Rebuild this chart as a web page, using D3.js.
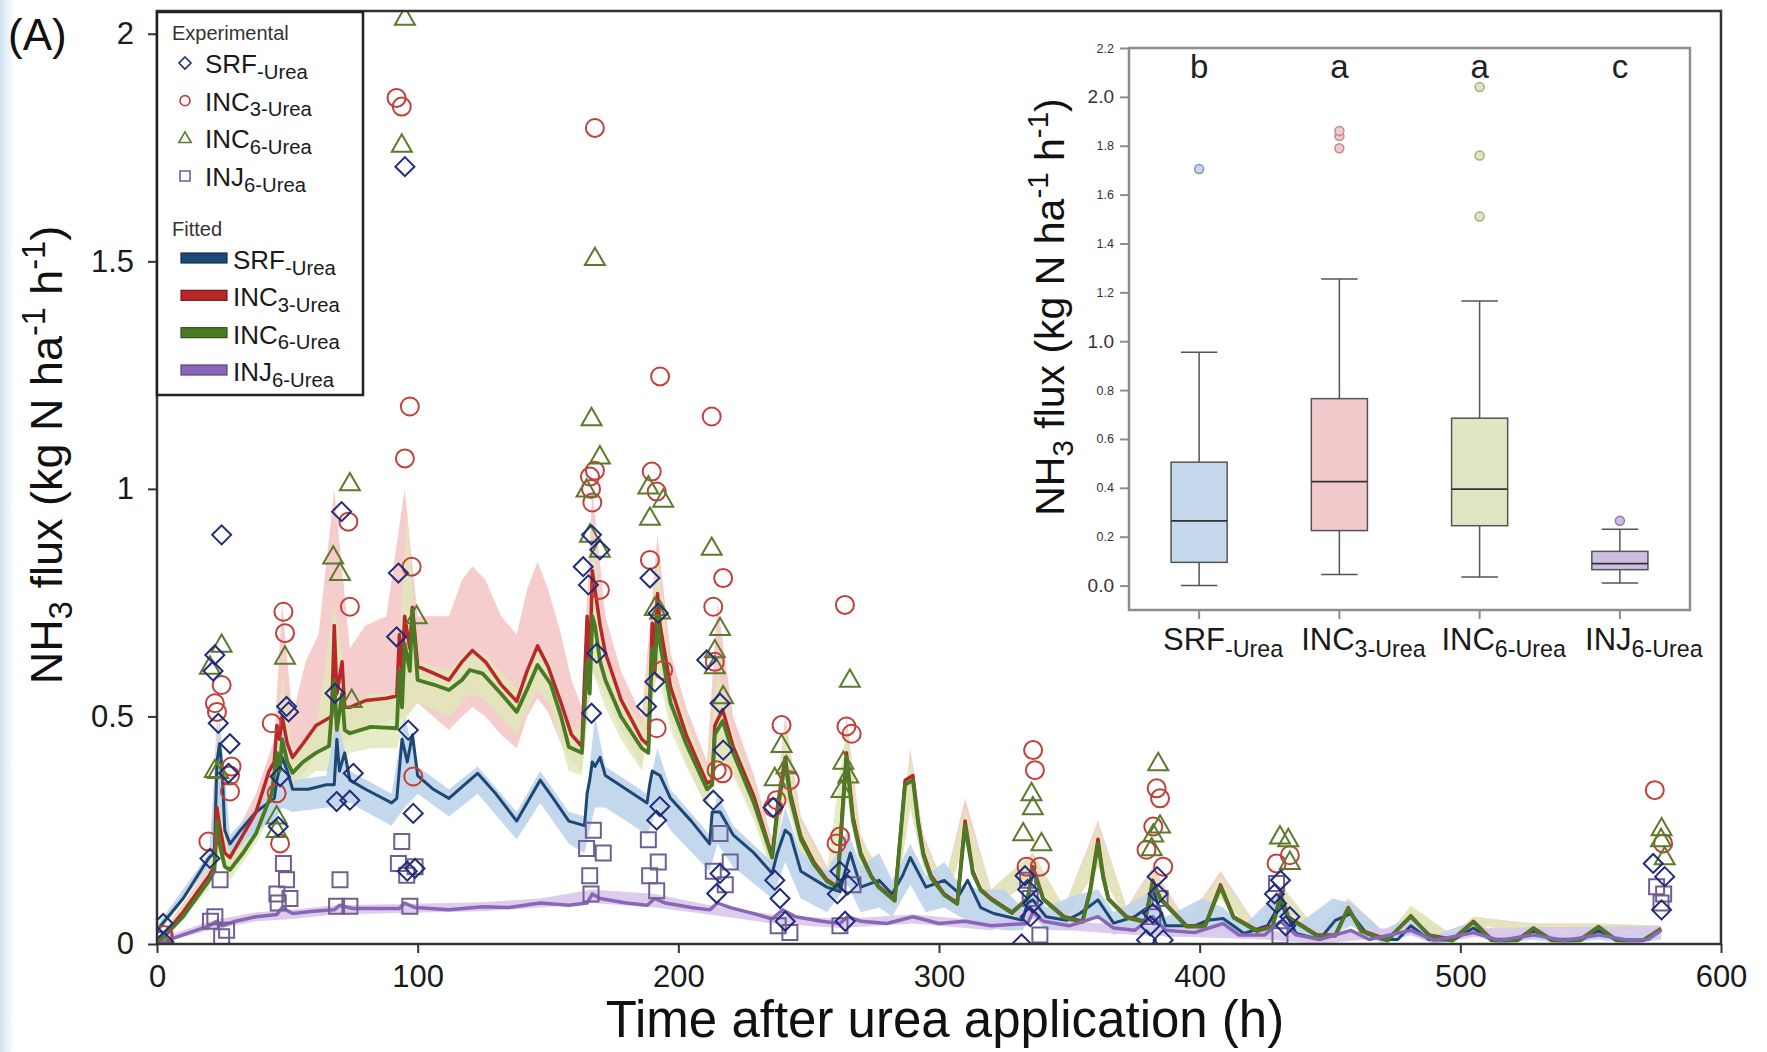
<!DOCTYPE html>
<html>
<head>
<meta charset="utf-8">
<script src="https://cdn.jsdelivr.net/npm/d3@7"></script>
<style>
  body { margin: 0; background: #fff; }
  svg { display: block; font-family: "Liberation Sans", Arial, sans-serif; }
</style>
</head>
<body>
<div id="chart"></div>
<script>
// ---------- data ----------
const xTicks = [0, 100, 200, 300, 400, 500, 600];
const yTicks = [0, 0.5, 1, 1.5, 2];
const insetTicks = [0, 0.2, 0.4, 0.6, 0.8, 1.0, 1.2, 1.4, 1.6, 1.8, 2.0, 2.2];

// experimental points [hour, flux]
const obsSRF = [[2.4,0.045],[2.6,0.005],[20.3,0.188],[22.2,0.635],[24.8,0.899],[23.5,0.485],[21.5,0.6],[28,0.44],[27.4,0.375],
  [46.5,0.258],[47.2,0.368],[49.7,0.522],[50.5,0.51],[68.3,0.551],[70.8,0.95],[68.9,0.313],[74,0.316],[75.3,0.375],
  [92.6,0.815],[91.9,0.675],[95.1,1.708],[96.4,0.47],[98.3,0.287],[99,0.166],[96,0.16],
  [163.5,0.829],[165.5,0.789],[166.7,0.899],[169.9,0.866],[168.7,0.639],[166.7,0.507],
  [189.1,0.804],[192.3,0.727],[191,0.576],[187.8,0.522],[192.9,0.302],[191.7,0.272],
  [210.9,0.624],[216,0.529],[217.2,0.426],[213.4,0.316],[216,0.155],[214.7,0.111],
  [236.4,0.3],[237,0.14],[239,0.1],[241,0.05],[262,0.16],[261,0.11],[264,0.05],[265,0.13],
  [331.7,0.0],[333,0.15],[334,0.12],[336,0.09],[335,0.06],[379.6,0.009],[386,0.009],[382,0.067],[383.7,0.148],[381,0.04],[384,0.11],
  [429.5,0.089],[434.6,0.06],[428.7,0.11],[431,0.14],[433,0.04],[574,0.177],[578.4,0.148],[577.2,0.075]];
const obsINC3 = [[2.6,0.02],[19.7,0.225],[24.8,0.569],[22.2,0.529],[23,0.51],[28.6,0.39],[28,0.37],[28,0.335],
  [48.5,0.73],[49.1,0.683],[44,0.485],[45.9,0.331],[47.2,0.221],[73.4,0.928],[74,0.741],
  [91.9,1.859],[93.9,1.84],[97,1.181],[95.1,1.067],[97.7,0.829],[98.3,0.368],
  [168,1.793],[166.1,1.027],[166.5,1.0],[168,1.04],[167,0.97],[169.9,0.778],
  [193,1.247],[189.8,1.038],[191.7,0.994],[189.1,0.844],[194.2,0.602],[191.7,0.474],
  [212.8,1.159],[217.2,0.804],[213.4,0.741],[214,0.62],[214.7,0.382],[217,0.375],
  [239.6,0.481],[242.8,0.36],[237.7,0.316],[236.4,0.3],[263.9,0.745],[264.5,0.478],[266.5,0.462],[260.7,0.221],[262,0.236],
  [336.1,0.426],[336.8,0.382],[333.6,0.17],[338.7,0.17],[383.5,0.342],[384.8,0.32],[382.2,0.258],[379.6,0.207],[386,0.17],
  [429.5,0.177],[434.6,0.195],[574.6,0.338],[577.8,0.221]];
const obsINC6 = [[2.6,0.0],[20.3,0.609],[24.8,0.657],[22.2,0.382],[23.5,0.38],[45.9,0.28],[45.9,0.25],[49.1,0.631],
  [67.6,0.851],[70.2,0.815],[74,1.012],[74.7,0.536],[99.6,0.72],[95.1,2.035],[93.9,1.756],
  [168,1.507],[166.7,1.155],[169.9,1.071],[164.8,0.998],[166.1,0.899],[169.9,0.866],
  [188.5,1.005],[194.2,0.976],[189.1,0.936],[191,0.738],[193,0.73],
  [212.8,0.87],[216,0.694],[214,0.645],[214,0.61],[217.2,0.544],[239.6,0.437],[237,0.364],[241.5,0.39],
  [265.8,0.58],[263.3,0.4],[262.6,0.338],[265.2,0.37],[335.5,0.331],[336,0.3],[332.3,0.243],[339.3,0.221],
  [384.1,0.397],[384.8,0.26],[382.2,0.24],[381.6,0.21],[430.8,0.236],[434,0.23],[434.6,0.18],
  [577.2,0.254],[577,0.23],[578.4,0.19]];
const obsINJ6 = [[2.6,0.01],[22.2,0.06],[24.2,0.141],[24.8,0.016],[26.7,0.03],[20.5,0.05],
  [48.5,0.177],[49.7,0.141],[46,0.11],[46.5,0.09],[51,0.1],[70.2,0.141],[68.9,0.083],[74,0.083],
  [93.9,0.225],[92.6,0.177],[95.8,0.151],[97,0.083],[99,0.17],
  [167.4,0.25],[164.8,0.21],[171.2,0.2],[166,0.15],[166.5,0.11],[188.5,0.229],[192.3,0.18],[189,0.15],[191.7,0.117],
  [216,0.243],[219.9,0.18],[213.4,0.16],[218,0.13],[238.3,0.04],[242.8,0.025],[262,0.04],[267,0.13],
  [338.7,0.02],[335,0.1],[334,0.14],[384.8,0.1],[382,0.06],[429.5,0.133],[430.8,0.018],
  [575.3,0.126],[578,0.11],[577,0.09]];

// fitted model lines [hour, flux]
const fitSRF = [[0,0.03],[10,0.1],[20,0.19],[22,0.2],[23,0.4],[24,0.44],[25,0.38],[26,0.25],[28,0.22],[32,0.25],[38,0.29],
  [45,0.32],[46,0.36],[48,0.41],[50,0.38],[52,0.34],[58,0.34],[65,0.35],[68,0.35],[69,0.45],[70,0.38],[72,0.42],[74,0.36],
  [80,0.34],[90,0.31],[92,0.32],[94,0.45],[96,0.4],[98,0.46],[100,0.37],[106,0.34],[112,0.32],[118,0.35],[123,0.375],
  [130,0.33],[138,0.27],[143,0.32],[147,0.36],[152,0.32],[158,0.27],[164,0.26],[165,0.33],[166,0.36],[167,0.4],[168,0.39],
  [170,0.41],[172,0.37],[180,0.34],[188,0.31],[189,0.35],[190,0.38],[193,0.37],[197,0.32],[205,0.27],[212,0.22],[213,0.29],
  [216,0.29],[221,0.24],[229,0.2],[236,0.155],[238,0.2],[241,0.25],[243,0.24],[247,0.16],[257,0.125],[262,0.115],[264,0.16],
  [266,0.2],[270,0.125],[277,0.14],[282,0.11],[286,0.15],[289,0.19],[295,0.125],[302,0.14],[308,0.11],[311,0.14],[316,0.08],
  [321,0.067],[332,0.052],[334,0.09],[336,0.097],[341,0.06],[349,0.052],[354,0.067],[361,0.097],[367,0.046],[375,0.06],
  [380,0.08],[382,0.12],[387,0.04],[398,0.04],[403,0.052],[409,0.056],[417,0.023],[426,0.04],[431,0.09],[437,0.023],
  [446,0.01],[452,0.052],[458,0.067],[464,0.023],[470,0.01],[476,0.01],[481,0.04],[488,0.01],[497,0.008],[505,0.035],
  [512,0.008],[522,0.01],[528,0.03],[535,0.01],[546,0.008],[553,0.03],[560,0.008],[570,0.008],[577,0.03]];
const fitINC3 = [[0,0],[10,0.07],[20,0.15],[22,0.17],[23,0.3],[24,0.26],[26,0.2],[28,0.19],[33,0.24],[38,0.29],[43,0.38],
  [45,0.4],[46,0.48],[47,0.45],[48,0.5],[50,0.44],[52,0.41],[56,0.44],[61,0.48],[67,0.5],[68,0.7],[69,0.55],[71,0.62],
  [72,0.52],[74,0.52],[80,0.535],[88,0.54],[92,0.545],[93,0.68],[94,0.6],[95,0.72],[97,0.65],[98,0.74],[100,0.61],
  [106,0.595],[112,0.58],[117,0.62],[121,0.645],[126,0.62],[132,0.57],[138,0.533],[142,0.6],[146,0.655],[150,0.61],
  [155,0.53],[159,0.46],[163,0.434],[165,0.72],[166,0.6],[167,0.82],[168,0.78],[170,0.7],[172,0.64],[178,0.537],[186,0.45],
  [188.5,0.437],[190,0.705],[191,0.65],[192,0.77],[193,0.7],[197,0.565],[203,0.46],[211,0.353],[213,0.36],[214,0.48],
  [217,0.515],[221,0.434],[229,0.324],[236,0.192],[238,0.3],[241,0.41],[243,0.33],[247,0.236],[252,0.18],[257,0.141],[261,0.126],
  [263,0.3],[264.5,0.42],[267,0.28],[270,0.2],[274,0.15],[277,0.126],[283,0.097],[287,0.36],[290,0.37],[292,0.27],[294,0.2],
  [297,0.15],[302,0.11],[307,0.09],[310,0.27],[313,0.16],[316,0.12],[320,0.1],[328,0.07],[334,0.1],[336,0.17],[340,0.1],
  [348,0.06],[355,0.05],[358,0.12],[361,0.23],[363,0.15],[365,0.1],[372,0.06],[379,0.05],[382,0.14],[385,0.1],[395,0.04],
  [402,0.04],[408,0.13],[413,0.06],[422,0.03],[428,0.04],[431,0.11],[434,0.06],[445,0.02],[452,0.02],[457,0.08],[462,0.03],
  [472,0.01],[481,0.06],[488,0.02],[497,0.01],[505,0.05],[512,0.01],[522,0.01],[528,0.035],[535,0.01],[546,0.01],[553,0.038],
  [560,0.008],[570,0.008],[577,0.034]];
const fitINC6 = [[0,0],[10,0.06],[20,0.14],[22,0.16],[23,0.27],[24,0.22],[26,0.17],[28,0.163],[33,0.2],[38,0.243],[44,0.33],
  [46,0.42],[47,0.38],[48,0.45],[50,0.4],[52,0.376],[56,0.4],[61,0.42],[66,0.435],[68,0.58],[69,0.47],[71,0.55],[72,0.47],
  [74,0.463],[82,0.477],[92,0.474],[93,0.6],[94,0.52],[95,0.66],[97,0.6],[98,0.734],[100,0.58],[106,0.57],[112,0.558],
  [117,0.58],[120,0.602],[125,0.594],[132,0.55],[138,0.51],[142,0.56],[146,0.613],[151,0.572],[155,0.5],[158,0.433],
  [163,0.42],[165,0.62],[166,0.55],[167,0.72],[168,0.7],[170,0.62],[172,0.58],[178,0.5],[186,0.43],[188.5,0.42],[190,0.65],
  [191,0.6],[192,0.72],[193,0.66],[197,0.53],[203,0.44],[211,0.34],[213,0.35],[214,0.46],[217,0.49],[221,0.42],[229,0.31],
  [236,0.19],[238,0.29],[241,0.4],[243,0.32],[247,0.23],[252,0.175],[257,0.138],[261,0.124],[263,0.29],[264.5,0.41],[267,0.27],
  [270,0.195],[274,0.148],[277,0.124],[283,0.095],[287,0.35],[290,0.36],[292,0.265],[294,0.195],[297,0.145],[302,0.108],
  [307,0.088],[310,0.26],[313,0.155],[316,0.118],[320,0.098],[328,0.068],[334,0.1],[336,0.165],[340,0.098],[348,0.058],
  [355,0.048],[358,0.115],[361,0.22],[363,0.145],[365,0.098],[372,0.058],[379,0.048],[382,0.135],[385,0.098],[395,0.038],
  [402,0.038],[408,0.125],[413,0.058],[422,0.028],[428,0.038],[431,0.105],[434,0.058],[445,0.018],[452,0.018],[457,0.078],
  [462,0.028],[472,0.008],[481,0.062],[488,0.018],[497,0.008],[505,0.048],[512,0.008],[522,0.008],[528,0.034],[535,0.008],
  [546,0.008],[553,0.038],[560,0.008],[570,0.008],[577,0.032]];
const fitINJ6 = [[0,0],[10,0.02],[20,0.04],[23,0.05],[25,0.04],[30,0.05],[38,0.06],[46,0.065],[48,0.08],[52,0.067],[60,0.072],
  [68,0.075],[70,0.085],[75,0.078],[85,0.078],[93,0.078],[95,0.09],[99,0.08],[112,0.075],[125,0.082],[135,0.08],[147,0.09],
  [158,0.085],[165,0.09],[167,0.11],[170,0.1],[180,0.09],[188,0.085],[191,0.1],[195,0.09],[205,0.08],[212,0.075],[215,0.09],
  [220,0.08],[230,0.065],[236,0.055],[240,0.075],[245,0.06],[255,0.05],[262,0.045],[265,0.06],[270,0.05],[280,0.045],
  [290,0.06],[300,0.045],[310,0.05],[320,0.04],[334,0.045],[336,0.07],[340,0.05],[350,0.04],[361,0.06],[367,0.035],
  [375,0.03],[382,0.06],[387,0.03],[398,0.025],[409,0.045],[415,0.02],[425,0.02],[431,0.05],[437,0.02],[446,0.01],
  [458,0.03],[465,0.01],[481,0.03],[490,0.008],[505,0.025],[515,0.008],[528,0.02],[540,0.008],[553,0.02],[565,0.008],
  [572,0.01],[577,0.03]];

// uncertainty bands [hour, low, high]
const bandSRF = [[0,0.02,0.04],[20,0.17,0.2],[24,0.3,0.5],[28,0.19,0.24],[38,0.25,0.3],[45,0.27,0.34],[48,0.3,0.48],
  [52,0.29,0.36],[65,0.3,0.37],[69,0.3,0.5],[74,0.31,0.38],[90,0.26,0.33],[95,0.3,0.5],[100,0.33,0.39],[112,0.28,0.34],
  [123,0.33,0.39],[138,0.23,0.29],[147,0.31,0.38],[158,0.22,0.29],[164,0.2,0.28],[168,0.3,0.5],[172,0.3,0.39],[188,0.24,0.33],
  [192,0.3,0.43],[197,0.25,0.34],[212,0.16,0.24],[215,0.22,0.33],[221,0.17,0.26],[236,0.1,0.18],[241,0.18,0.3],[247,0.1,0.2],
  [257,0.07,0.16],[265,0.13,0.25],[270,0.07,0.17],[277,0.08,0.2],[282,0.06,0.14],[289,0.13,0.22],[295,0.07,0.15],
  [302,0.08,0.18],[308,0.06,0.13],[316,0.04,0.12],[325,0.03,0.12],[332,0.03,0.08],[336,0.06,0.13],[341,0.03,0.08],
  [351,0.03,0.105],[361,0.06,0.12],[367,0.02,0.07],[380,0.05,0.11],[387,0.015,0.06],[401,0.02,0.1],[409,0.03,0.08],
  [417,0.01,0.04],[431,0.06,0.12],[437,0.01,0.04],[451,0.02,0.1],[458,0.04,0.09],[470,0.0,0.03],[481,0.02,0.06],
  [490,0.0,0.02],[505,0.02,0.05],[515,0.0,0.02],[528,0.01,0.04],[540,0.0,0.02],[553,0.01,0.04],[565,0.0,0.02],[577,0.01,0.04]];
const bandINC3 = [[0,0,0.01],[20,0.13,0.17],[23,0.2,0.5],[28,0.16,0.22],[38,0.25,0.33],[45,0.33,0.45],[48,0.4,0.75],
  [52,0.35,0.5],[57,0.38,0.62],[62,0.42,0.68],[68,0.44,1.0],[74,0.45,0.65],[80,0.48,0.7],[88,0.49,0.72],[95,0.5,1.0],
  [100,0.53,0.72],[106,0.5,0.72],[112,0.47,0.72],[117,0.5,0.8],[121,0.52,0.83],[126,0.5,0.8],[132,0.46,0.72],[138,0.43,0.68],
  [142,0.5,0.78],[146,0.54,0.84],[150,0.51,0.78],[155,0.44,0.68],[159,0.4,0.58],[163,0.38,0.52],[167,0.6,1.0],[172,0.55,0.72],
  [178,0.47,0.6],[186,0.39,0.5],[192,0.62,0.9],[197,0.5,0.64],[203,0.4,0.52],[211,0.3,0.4],[215,0.42,0.75],[221,0.38,0.5],
  [229,0.28,0.37],[236,0.16,0.23],[241,0.33,0.5],[247,0.2,0.28],[257,0.11,0.17],[261,0.1,0.15],[264.5,0.33,0.5],
  [270,0.16,0.24],[277,0.1,0.15],[283,0.08,0.12],[289,0.3,0.43],[294,0.17,0.24],[302,0.09,0.13],[310,0.22,0.32],
  [320,0.08,0.12],[336,0.14,0.2],[348,0.05,0.08],[361,0.17,0.27],[372,0.05,0.08],[382,0.11,0.17],[395,0.03,0.05],
  [408,0.1,0.16],[422,0.02,0.04],[431,0.09,0.13],[445,0.01,0.03],[457,0.06,0.1],[472,0.0,0.02],[481,0.05,0.08],
  [497,0.0,0.02],[505,0.04,0.06],[528,0.03,0.045],[553,0.03,0.045],[577,0.025,0.04]];
const bandINC6 = [[0,0,0.01],[20,0.12,0.16],[23,0.2,0.4],[28,0.14,0.19],[38,0.22,0.27],[45,0.3,0.37],[48,0.35,0.6],
  [52,0.34,0.42],[61,0.38,0.47],[68,0.38,0.75],[74,0.42,0.52],[82,0.43,0.55],[92,0.43,0.55],[96,0.5,0.95],[100,0.53,0.62],
  [112,0.5,0.6],[120,0.55,0.65],[125,0.54,0.64],[138,0.46,0.56],[146,0.56,0.66],[151,0.52,0.62],[158,0.38,0.48],
  [163,0.37,0.47],[167,0.6,0.9],[172,0.52,0.63],[178,0.45,0.55],[186,0.38,0.48],[192,0.6,0.85],[197,0.47,0.6],
  [203,0.39,0.49],[211,0.3,0.38],[215,0.4,0.6],[221,0.37,0.46],[229,0.27,0.35],[236,0.16,0.22],[241,0.33,0.48],
  [247,0.2,0.27],[257,0.11,0.16],[264.5,0.33,0.48],[270,0.16,0.23],[283,0.08,0.12],[289,0.3,0.42],[294,0.17,0.23],
  [302,0.09,0.13],[310,0.22,0.3],[320,0.08,0.12],[336,0.14,0.2],[348,0.05,0.08],[361,0.17,0.26],[372,0.05,0.08],
  [382,0.11,0.16],[395,0.03,0.05],[408,0.1,0.15],[422,0.02,0.04],[431,0.09,0.13],[445,0.01,0.03],[457,0.06,0.09],
  [472,0.0,0.02],[481,0.055,0.085],[497,0.0,0.02],[505,0.04,0.06],[528,0.03,0.045],[553,0.03,0.045],[577,0.025,0.04]];
const bandINJ6 = [[0,0,0.01],[20,0.03,0.05],[38,0.05,0.07],[52,0.055,0.075],[68,0.065,0.085],[93,0.068,0.088],
  [125,0.072,0.092],[147,0.08,0.1],[167,0.09,0.12],[191,0.08,0.11],[212,0.065,0.085],[236,0.045,0.065],[262,0.035,0.055],
  [290,0.045,0.065],[320,0.03,0.05],[336,0.055,0.08],[350,0.03,0.05],[375,0.02,0.04],[398,0.015,0.035],[425,0.01,0.03],
  [446,0.0,0.02],[481,0.02,0.04],[490,0.0,0.015],[505,0.015,0.035],[577,0.02,0.04]];

// inset box plot
const boxNames = ["SRF", "INC3", "INC6", "INJ6"];
const boxSub = ["-Urea", "3-Urea", "6-Urea", "6-Urea"];
const boxMain = ["SRF", "INC", "INC", "INJ"];
const boxLow = [0.0, 0.045, 0.035, 0.01];
const boxQ1 = [0.095, 0.225, 0.245, 0.065];
const boxMedian = [0.265, 0.425, 0.395, 0.09];
const boxQ3 = [0.505, 0.765, 0.685, 0.14];
const boxHigh = [0.955, 1.255, 1.165, 0.23];
const boxOutliers = [[1.705], [1.79, 1.84, 1.86], [1.51, 1.76, 2.04], [0.265]];
const boxLetters = ["b", "a", "a", "c"];

// ---------- drawing ----------
const W = 1767, H = 1052;
const svg = d3.select("#chart").append("svg").attr("width", W).attr("height", H);
const defs = svg.append("defs");

const edge = defs.append("linearGradient").attr("id", "edge");
edge.append("stop").attr("offset", "0%").attr("stop-color", "#cfe2f5");
edge.append("stop").attr("offset", "100%").attr("stop-color", "#ffffff");
svg.append("rect").attr("width", W).attr("height", H).attr("fill", "#fff");
svg.append("rect").attr("width", 14).attr("height", H).attr("fill", "url(#edge)");

const x = d3.scaleLinear().domain([0, 600]).range([157, 1721]);
const y = d3.scaleLinear().domain([0, 2.05]).range([944, 11]);

defs.append("clipPath").attr("id", "plotclip").append("rect")
  .attr("x", x(0)).attr("y", y(2.05)).attr("width", x(600) - x(0)).attr("height", y(0) - y(2.05));

const col = {
  SRF:  { line: "#1d4874", band: "#bcd3eb", mark: "#202c7c", w: 3 },
  INC3: { line: "#b8282b", band: "#f4c4c4", mark: "#c0403c", w: 3.5 },
  INC6: { line: "#4b7a25", band: "#dfe8b8", mark: "#5d7a2c", w: 3.8 },
  INJ6: { line: "#8a66b8", band: "#d8c8ea", mark: "#6f5f92", w: 3.5 }
};

// rich text helper: parts = [text, mode] with mode "sub" / "sup" / undefined
function rich(sel, parts, size, subScale) {
  let shift = 0;
  parts.forEach(([t, m]) => {
    const target = m === "sub" ? size * 0.22 : m === "sup" ? -size * 0.38 : 0;
    sel.append("tspan").attr("dy", target - shift)
      .attr("font-size", m ? size * (subScale || 0.72) : size).text(t);
    shift = target;
  });
}

function shapePath(kind, r) {
  if (kind === "diamond") return `M0,${-r}L${r},0L0,${r}L${-r},0Z`;
  if (kind === "triangle") return `M0,${-r}L${r * 0.95},${r * 0.65}L${-r * 0.95},${r * 0.65}Z`;
  if (kind === "square") return `M${-r},${-r}H${r}V${r}H${-r}Z`;
  return d3.symbol(d3.symbolCircle, Math.PI * r * r)();
}

const plot = svg.append("g").attr("clip-path", "url(#plotclip)");

const area = d3.area().x(d => x(d[0])).y0(d => y(d[1])).y1(d => y(d[2]));
const line = d3.line().x(d => x(d[0])).y(d => y(d[1]));

[[bandINC3, "INC3", 0.85], [bandINC6, "INC6", 0.8], [bandSRF, "SRF", 0.9], [bandINJ6, "INJ6", 0.9]].forEach(([b, k, o]) => {
  plot.append("path").datum(b).attr("d", area).attr("fill", col[k].band).attr("fill-opacity", o);
});

[[fitSRF, "SRF"], [fitINC3, "INC3"], [fitINC6, "INC6"], [fitINJ6, "INJ6"]].forEach(([f, k]) => {
  plot.append("path").datum(f).attr("d", line).attr("fill", "none")
    .attr("stroke", col[k].line).attr("stroke-width", col[k].w).attr("stroke-linejoin", "round");
});

[[obsINJ6, "INJ6", "square", 7.5], [obsINC3, "INC3", "circle", 9], [obsINC6, "INC6", "triangle", 10.5], [obsSRF, "SRF", "diamond", 9.5]]
  .forEach(([pts, k, kind, r]) => {
    plot.selectAll(null).data(pts).enter().append("path")
      .attr("transform", d => `translate(${x(d[0])},${y(d[1])})`)
      .attr("d", shapePath(kind, r))
      .attr("fill", "none").attr("stroke", col[k].mark).attr("stroke-width", 2);
  });

// axes
const axFont = 31;
const gx = svg.append("g").attr("transform", `translate(0,${y(0)})`)
  .call(d3.axisBottom(x).tickValues(xTicks).tickSize(9).tickPadding(12).tickFormat(d3.format("d")));
const gy = svg.append("g").attr("transform", `translate(${x(0)},0)`)
  .call(d3.axisLeft(y).tickValues(yTicks).tickSize(9).tickPadding(14).tickFormat(d => String(d)));
[gx, gy].forEach(g => {
  g.select(".domain").remove();
  g.selectAll("line").attr("stroke", "#333").attr("stroke-width", 2);
  g.selectAll("text").attr("font-size", axFont).attr("fill", "#1a1a1a").attr("font-family", "Liberation Sans, Arial, sans-serif");
});

svg.append("rect").attr("x", x(0)).attr("y", y(2.05)).attr("width", x(600) - x(0)).attr("height", y(0) - y(2.05))
  .attr("fill", "none").attr("stroke", "#333").attr("stroke-width", 2.5);

// titles
rich(svg.append("text").attr("x", 945).attr("y", 1037).attr("text-anchor", "middle").attr("fill", "#111"),
  [["Time after urea application (h)"]], 51);
rich(svg.append("text").attr("transform", "translate(62,455) rotate(-90)").attr("text-anchor", "middle").attr("fill", "#111"),
  [["NH"], ["3", "sub"], [" flux (kg N ha"], ["-1", "sup"], [" h"], ["-1", "sup"], [")"]], 45);
svg.append("text").attr("x", 8).attr("y", 50).attr("font-size", 44).attr("fill", "#111").text("(A)");

// legend
const lg = svg.append("g");
lg.append("rect").attr("x", 157).attr("y", 12).attr("width", 206).attr("height", 383)
  .attr("fill", "#fff").attr("stroke", "#222").attr("stroke-width", 2.5);
lg.append("text").attr("x", 172).attr("y", 40).attr("font-size", 20).attr("fill", "#333").text("Experimental");
const legKeys = ["SRF", "INC3", "INC6", "INJ6"];
const legShapes = ["diamond", "circle", "triangle", "square"];
const legShapeR = [6, 5, 6.5, 5];
const legRowY = d3.scaleLinear().domain([0, 3]).range([63, 176]);
legKeys.forEach((k, i) => {
  lg.append("path").attr("transform", `translate(185,${legRowY(i)})`).attr("d", shapePath(legShapes[i], legShapeR[i]))
    .attr("fill", "none").attr("stroke", col[k].mark).attr("stroke-width", 1.6);
  rich(lg.append("text").attr("x", 205).attr("y", legRowY(i) + 10).attr("fill", "#1a1a1a"),
    [[boxMain[i]], [boxSub[i], "sub"]], 26, 0.78);
});
lg.append("text").attr("x", 172).attr("y", 236).attr("font-size", 20).attr("fill", "#333").text("Fitted");
const fitRowY = d3.scaleLinear().domain([0, 3]).range([258, 370]);
legKeys.forEach((k, i) => {
  lg.append("rect").attr("x", 181).attr("y", fitRowY(i) - 5).attr("width", 46).attr("height", 10)
    .attr("fill", col[k].line).attr("stroke", d3.color(col[k].line).darker(1.2)).attr("stroke-width", 1.2);
  rich(lg.append("text").attr("x", 233).attr("y", fitRowY(i) + 11).attr("fill", "#1a1a1a"),
    [[boxMain[i]], [boxSub[i], "sub"]], 26, 0.78);
});

// ---------- inset box plot ----------
const ins = svg.append("g");
const xi = d3.scaleBand().domain(boxNames).range([1129, 1690]);
const yi = d3.scaleLinear().domain([-0.1, 2.2]).range([610, 48]);
const boxFill = ["#c6d8ec", "#f2c9ca", "#e2e5c4", "#cdbde3"];
const boxOut = ["#7f95b8", "#c08a95", "#a9ad78", "#8f7db0"];

ins.append("rect").attr("x", 1129).attr("y", 48).attr("width", 1690 - 1129).attr("height", 610 - 48)
  .attr("fill", "#fff").attr("stroke", "#8d8d8d").attr("stroke-width", 2.5);

const giy = ins.append("g").attr("transform", "translate(1129,0)")
  .call(d3.axisLeft(yi).tickValues(insetTicks).tickSize(9).tickPadding(6).tickFormat(d3.format(".1f")));
giy.select(".domain").remove();
giy.selectAll("line").attr("stroke", "#8d8d8d").attr("stroke-width", 2);
giy.selectAll("text").attr("fill", "#333").attr("font-family", "Liberation Sans, Arial, sans-serif")
  .attr("font-size", d => (Math.abs(d - Math.round(d)) < 1e-9 ? 19 : 12.5));

const gix = ins.append("g").attr("transform", "translate(0,610)")
  .call(d3.axisBottom(xi).tickSize(9).tickFormat(""));
gix.select(".domain").remove();
gix.selectAll("line").attr("stroke", "#8d8d8d").attr("stroke-width", 2);

const bw = xi.bandwidth() * 0.4, cw = xi.bandwidth() * 0.26;
boxNames.forEach((n, i) => {
  const cx = xi(n) + xi.bandwidth() / 2;
  const g = ins.append("g");
  g.append("line").attr("x1", cx).attr("x2", cx).attr("y1", yi(boxLow[i])).attr("y2", yi(boxHigh[i]))
    .attr("stroke", "#555").attr("stroke-width", 1.5);
  [boxLow[i], boxHigh[i]].forEach(v => g.append("line").attr("x1", cx - cw / 2).attr("x2", cx + cw / 2)
    .attr("y1", yi(v)).attr("y2", yi(v)).attr("stroke", "#555").attr("stroke-width", 1.5));
  g.append("rect").attr("x", cx - bw / 2).attr("y", yi(boxQ3[i])).attr("width", bw)
    .attr("height", yi(boxQ1[i]) - yi(boxQ3[i])).attr("fill", boxFill[i]).attr("stroke", "#555").attr("stroke-width", 1.5);
  g.append("line").attr("x1", cx - bw / 2).attr("x2", cx + bw / 2).attr("y1", yi(boxMedian[i])).attr("y2", yi(boxMedian[i]))
    .attr("stroke", "#333").attr("stroke-width", 1.8);
  g.selectAll(null).data(boxOutliers[i]).enter().append("circle")
    .attr("cx", cx).attr("cy", d => yi(d)).attr("r", 4.5)
    .attr("fill", boxFill[i]).attr("stroke", boxOut[i]).attr("stroke-width", 1.5);
  g.append("text").attr("x", cx).attr("y", 78).attr("text-anchor", "middle").attr("font-size", 33)
    .attr("fill", "#222").text(boxLetters[i]);
  rich(g.append("text").attr("x", cx + 24).attr("y", 650).attr("text-anchor", "middle").attr("fill", "#1a1a1a"),
    [[boxMain[i]], [boxSub[i], "sub"]], 31, 0.75);
});

rich(ins.append("text").attr("transform", "translate(1064,307) rotate(-90)").attr("text-anchor", "middle").attr("fill", "#111"),
  [["NH"], ["3", "sub"], [" flux (kg N ha"], ["-1", "sup"], [" h"], ["-1", "sup"], [")"]], 41);
</script>
</body>
</html>
